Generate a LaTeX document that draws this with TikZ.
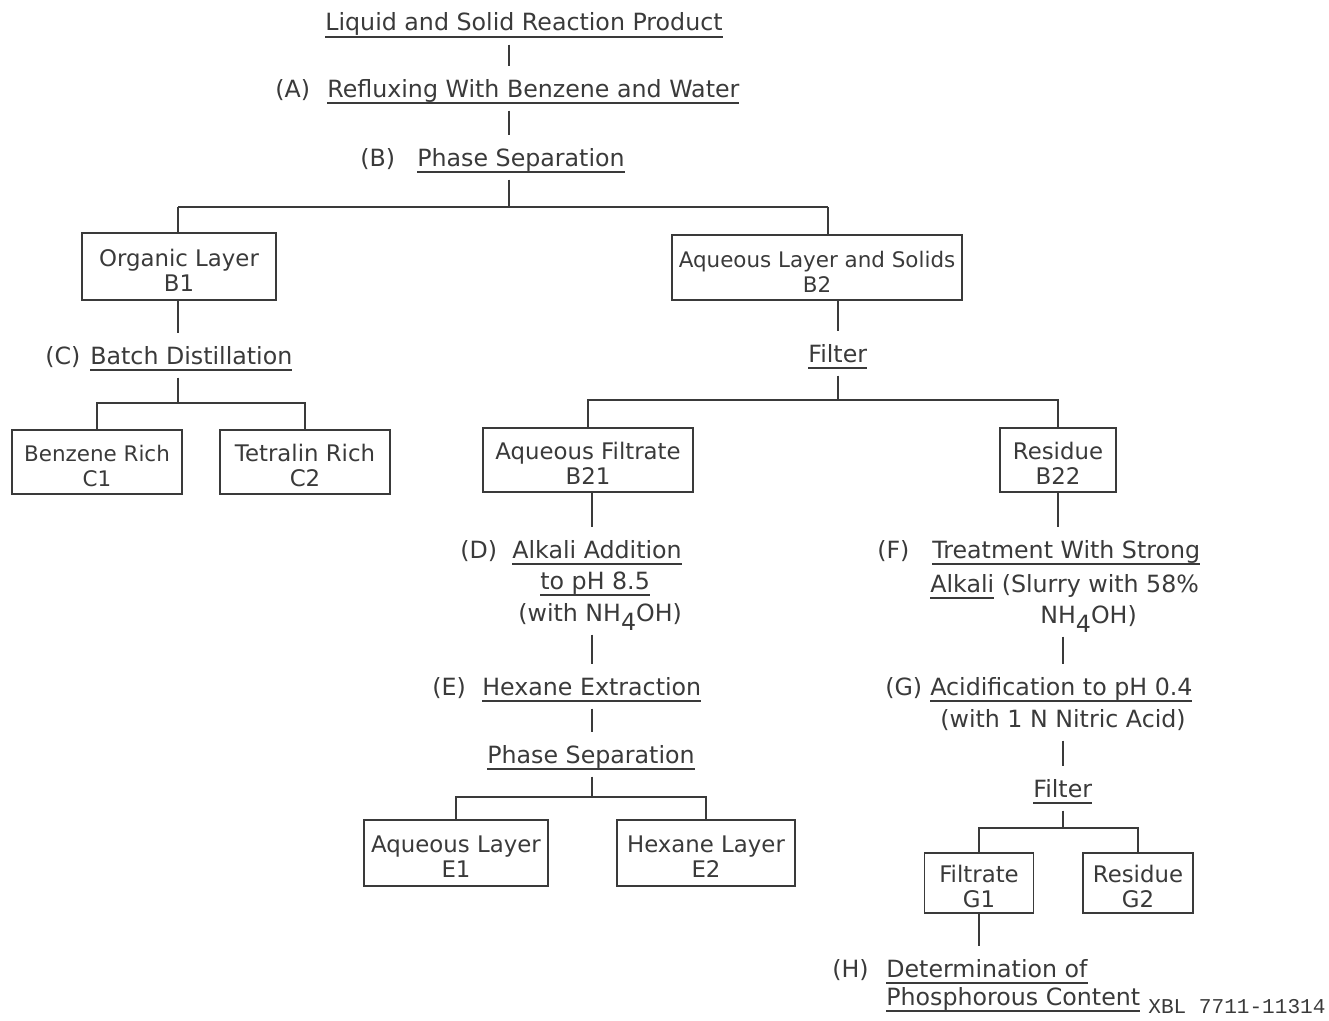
\documentclass[tikz,border=0pt]{standalone}
\usepackage{fontspec}
\setmainfont{DejaVu Sans}
\newfontfamily\xblfont{Liberation Mono}
\newcommand\mfnt{\fontsize{13.5}{15}\selectfont}
\newcommand\boxfnt{\fontsize{13}{14.2}\selectfont}
\newcommand\boxsmall{\fontsize{12.2}{14.2}\selectfont}
\newcommand\ulx[1]{\setbox0\hbox{#1}\rlap{\rule[-3.9pt]{\wd0}{1pt}}\box0\relax}
\newcommand\subx[1]{\raisebox{-0.38em}{#1}}
\newcommand\tstrut{\rule{0pt}{14pt}}
\definecolor{ink}{HTML}{3A3A3A}
\begin{document}
\begin{tikzpicture}[x=0.02cm, y=-0.02cm,
  txt/.style={inner xsep=0pt, inner ysep=3pt, anchor=base west, text height=14.5pt, text depth=4.5pt, font=\mfnt, text=ink},
  boxn/.style={draw=ink, line width=1.1pt, align=center, font=\boxfnt, text=ink, inner sep=0pt},
  conn/.style={draw=ink, line width=1pt}]
\useasboundingbox (0,0) rectangle (1329,1021);

% ---- text rows ----
\node[txt] (title) at (325,31) {\ulx{Liquid and Solid Reaction Product}};
\node[txt] (Al) at (275,97) {(A)};
\node[txt] (At) at (327,97) {\ulx{Refluxing With Benzene and Water}};
\node[txt] (Bl) at (360,166) {(B)};
\node[txt] (Bt) at (417,166) {\ulx{Phase Separation}};
\node[txt] (Cl) at (45,364) {(C)};
\node[txt] (Ct) at (90,364) {\ulx{Batch Distillation}};
\node[txt] (F1) at (808,362) {\ulx{Filter}};
\node[txt] (Dl) at (460,558) {(D)};
\node[txt] (Dt1) at (512,558) {\ulx{Alkali Addition}};
\node[txt] (Dt2) at (540,589) {\ulx{to pH 8.5}};
\node[txt] (Dt3) at (518,621) {(with NH\subx{4}OH)};
\node[txt] (El) at (432,695) {(E)};
\node[txt] (Et) at (482,695) {\ulx{Hexane Extraction}};
\node[txt] (PS2) at (487,763) {\ulx{Phase Separation}};
\node[txt] (Fl) at (877,558) {(F)};
\node[txt] (Ft1) at (932,558) {\ulx{Treatment With Strong}};
\node[txt] (Ft2) at (930,592) {\ulx{Alkali} (Slurry with 58\%};
\node[txt] (Ft3) at (1040,623) {NH\subx{4}OH)};
\node[txt] (Gl) at (885,695) {(G)};
\node[txt] (Gt1) at (930,695) {\ulx{Acidification to pH 0.4}};
\node[txt] (Gt2) at (940,727) {(with 1 N Nitric Acid)};
\node[txt] (F2) at (1033,797) {\ulx{Filter}};
\node[txt] (Hl) at (832,977) {(H)};
\node[txt] (Ht1) at (886,977) {\ulx{Determination of}};
\node[txt] (Ht2) at (886,1005) {\ulx{Phosphorous Content}};
\node[anchor=base west, inner sep=0pt, font=\xblfont\fontsize{12}{14}\selectfont, text=ink] (xbl) at (1148,1013) {XBL 7711-11314};

% ---- boxes ----
\node[boxn, minimum width=3.88cm, minimum height=1.34cm] (B1) at (179,266.5) {\tstrut Organic Layer\\B1};
\node[boxn, font=\boxsmall, minimum width=5.8cm, minimum height=1.3cm] (B2) at (817,267.5) {\tstrut Aqueous Layer and Solids\\B2};
\node[boxn, font=\boxsmall, minimum width=3.4cm, minimum height=1.28cm] (C1) at (97,462) {\tstrut Benzene Rich\\C1};
\node[boxn, minimum width=3.4cm, minimum height=1.28cm] (C2) at (305,462) {\tstrut Tetralin Rich\\C2};
\node[boxn, minimum width=4.2cm, minimum height=1.28cm] (B21) at (588,460) {\tstrut Aqueous Filtrate\\B21};
\node[boxn, minimum width=2.32cm, minimum height=1.28cm] (B22) at (1058,460) {\tstrut Residue\\B22};
\node[boxn, minimum width=3.68cm, minimum height=1.32cm] (E1) at (456,853) {\tstrut Aqueous Layer\\E1};
\node[boxn, minimum width=3.56cm, minimum height=1.32cm] (E2) at (706,853) {\tstrut Hexane Layer\\E2};
\node[boxn, minimum width=2.18cm, minimum height=1.2cm] (G1) at (979,883) {\tstrut Filtrate\\G1};
\node[boxn, minimum width=2.2cm, minimum height=1.2cm] (G2) at (1138,883) {\tstrut Residue\\G2};

% ---- junction coordinates ----
\coordinate (h1) at (509,207);
\coordinate (h1l) at (178,207);
\coordinate (h1r) at (828,207);
\coordinate (h2) at (178,403);
\coordinate (h3) at (838,400);
\coordinate (h4) at (592,797);
\coordinate (h5) at (1063,828);

% ---- connectors ----
\draw[conn] (title.south -| h1) -- (At.north -| h1);
\draw[conn] (At.south -| h1) -- (Bt.north -| h1);
\draw[conn] (Bt.south -| h1) -- (h1);
\draw[conn] (h1l) -- (h1r);
\draw[conn] (h1l) -- (B1.north -| h1l);
\draw[conn] (h1r) -- (B2.north -| h1r);

\draw[conn] (B1.south -| h2) -- (Ct.north -| h2);
\draw[conn] (Ct.south -| h2) -- (h2);
\draw[conn] (C1.north) |- (h2) -| (C2.north);

\draw[conn] (B2.south -| h3) -- (F1.north -| h3);
\draw[conn] (F1.south -| h3) -- (h3);
\draw[conn] (B21.north) |- (h3) -| (B22.north);

\draw[conn] (B21.south -| h4) -- (Dt1.north -| h4);
\draw[conn] (Dt3.south -| h4) -- (Et.north -| h4);
\draw[conn] (Et.south -| h4) -- (PS2.north -| h4);
\draw[conn] (PS2.south -| h4) -- (h4);
\draw[conn] (E1.north) |- (h4) -| (E2.north);

\draw[conn] (B22.south) -- (B22.south |- Ft1.north);
\draw[conn] (Ft3.south -| h5) -- (Gt1.north -| h5);
\draw[conn] (Gt2.south -| h5) -- (F2.north -| h5);
\draw[conn] (F2.south -| h5) -- (h5);
\draw[conn] (G1.north) |- (h5) -| (G2.north);

\draw[conn] (G1.south) -- (G1.south |- Ht1.north);
\end{tikzpicture}
\end{document}
